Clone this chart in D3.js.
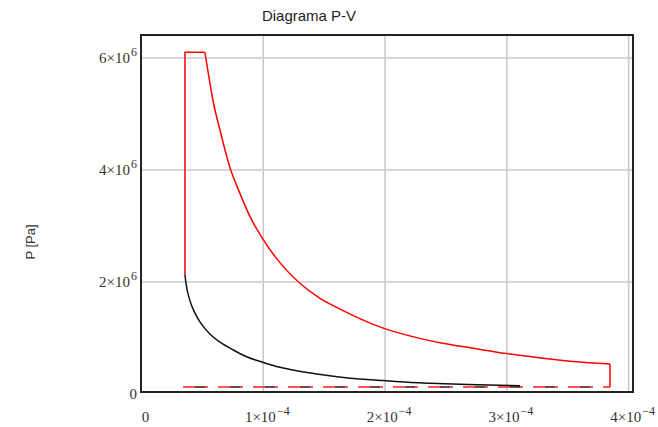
<!DOCTYPE html>
<html>
<head>
<meta charset="utf-8">
<script src="https://cdn.jsdelivr.net/npm/d3@7"></script>
<style>
  body { margin: 0; background: #fff; }
  svg { display: block; }
  .grid line { stroke: #c8c8c8; stroke-width: 1.5; }
  .grid path { display: none; }
  .lbl text { font-family: "Liberation Serif", serif; font-size: 15px; fill: #333; }
  .lbl path, .lbl line { display: none; }
</style>
</head>
<body>
<svg width="658" height="427"></svg>
<script>
// compression curve (black), V in m^3, P in Pa
const compV = [3.112e-4, 2.685e-4, 2.373e-4, 2.126e-4, 1.989e-4, 1.716e-4, 1.443e-4, 1.278e-4,
  1.141e-4, 1.004e-4, 0.868e-4, 0.758e-4, 0.649e-4, 0.567e-4, 0.484e-4, 0.440e-4, 0.402e-4,
  0.369e-4, 0.361e-4];
const compP = [0.143e6, 0.162e6, 0.185e6, 0.212e6, 0.235e6, 0.277e6, 0.350e6, 0.408e6,
  0.470e6, 0.557e6, 0.660e6, 0.780e6, 0.920e6, 1.060e6, 1.280e6, 1.450e6, 1.660e6,
  1.975e6, 2.118e6];

// constant pressure heat addition (red)
const heatV = [0.361e-4, 0.361e-4, 0.525e-4];
const heatP = [2.118e6, 6.09e6, 6.09e6];

// expansion (red)
const expV = [0.525e-4, 0.539e-4, 0.594e-4, 0.649e-4, 0.731e-4, 0.813e-4, 0.895e-4, 1.004e-4,
  1.114e-4, 1.305e-4, 1.470e-4, 1.634e-4, 1.989e-4, 2.264e-4, 2.455e-4, 2.728e-4, 3.002e-4,
  3.276e-4, 3.549e-4, 3.851e-4];
const expP = [6.09e6, 5.90e6, 5.20e6, 4.70e6, 4.03e6, 3.57e6, 3.16e6, 2.75e6,
  2.41e6, 1.97e6, 1.70e6, 1.51e6, 1.17e6, 1.00e6, 0.91e6, 0.81e6, 0.715e6,
  0.64e6, 0.575e6, 0.53e6];

// blowdown (red)
const blowV = [3.851e-4, 3.851e-4];
const blowP = [0.53e6, 0.12e6];

// exhaust / intake stroke (dashed)
const strokeV = [0.345e-4, 3.851e-4];
const strokeP = [0.12e6, 0.12e6];

const xTicks = [0, 1e-4, 2e-4, 3e-4, 4e-4];
const xTickLabels = [["0", ""], ["1×10", "−4"], ["2×10", "−4"], ["3×10", "−4"], ["4×10", "−4"]];
const yTicks = [0, 2e6, 4e6, 6e6];
const yTickLabels = [["0", ""], ["2×10", "6"], ["4×10", "6"], ["6×10", "6"]];

const svg = d3.select("svg");
const plot = { left: 141, right: 633, top: 35, bottom: 392 };

const x = d3.scaleLinear().domain([0, 4.04e-4]).range([plot.left, plot.right]);
const y = d3.scaleLinear().domain([0.03e6, 6.4e6]).range([plot.bottom, plot.top]);

// grid
svg.append("g").attr("class", "grid")
  .attr("transform", `translate(0,${plot.bottom})`)
  .call(d3.axisBottom(x).tickValues(xTicks.slice(1)).tickSize(-(plot.bottom - plot.top)).tickFormat(""));
svg.append("g").attr("class", "grid")
  .attr("transform", `translate(${plot.left},0)`)
  .call(d3.axisLeft(y).tickValues(yTicks.slice(1)).tickSize(-(plot.right - plot.left)).tickFormat(""));

// tick labels with superscript exponents
function supLabels(sel, labels, vals) {
  sel.selectAll(".tick text").each(function (d) {
    const lab = labels[vals.indexOf(d)];
    const t = d3.select(this).text(null);
    t.append("tspan").text(lab[0]);
    if (lab[1]) {
      t.append("tspan").attr("dy", -7).attr("dx", 1).style("font-size", "12px").text(lab[1]);
    }
  });
}

const xa = svg.append("g").attr("class", "lbl")
  .attr("transform", `translate(0,${plot.bottom})`)
  .call(d3.axisBottom(x).tickValues(xTicks).tickSize(0));
xa.selectAll(".tick text").attr("y", 30).attr("dy", 0).attr("dx", 4);
supLabels(xa, xTickLabels, xTicks);

const ya = svg.append("g").attr("class", "lbl")
  .attr("transform", `translate(${plot.left},0)`)
  .call(d3.axisLeft(y).tickValues(yTicks).tickSize(0).tickPadding(4));
ya.selectAll(".tick text").attr("dy", "0.35em");
supLabels(ya, yTickLabels, yTicks);

// frame
svg.append("rect")
  .attr("x", plot.left).attr("y", plot.top)
  .attr("width", plot.right - plot.left).attr("height", plot.bottom - plot.top)
  .attr("fill", "none").attr("stroke", "#222").attr("stroke-width", 2);

const line = d3.line().x(d => x(d[0])).y(d => y(d[1]));
const smooth = d3.line().x(d => x(d[0])).y(d => y(d[1])).curve(d3.curveMonotoneX);

// dashed stroke: red and dark gray dashes overlapping
const strokePts = d3.zip(strokeV, strokeP);
svg.append("path").attr("d", line(strokePts))
  .attr("fill", "none").attr("stroke", "#ff2020").attr("stroke-width", 1.6)
  .attr("stroke-dasharray", "25,10");
svg.append("path").attr("d", line(strokePts))
  .attr("fill", "none").attr("stroke", "#444").attr("stroke-width", 1.6)
  .attr("stroke-dasharray", "10,25").attr("stroke-dashoffset", -12);

// red cycle
const red = svg.append("g").attr("fill", "none").attr("stroke", "#ff0000").attr("stroke-width", 1.5);
red.append("path").attr("d", line(d3.zip(heatV, heatP)));
red.append("path").attr("d", smooth(d3.zip(expV, expP)));
red.append("path").attr("d", line(d3.zip(blowV, blowP)));

// black compression
svg.append("path").attr("d", smooth(d3.zip(compV, compP).reverse()))
  .attr("fill", "none").attr("stroke", "#111").attr("stroke-width", 1.5);

// titles
svg.append("text")
  .attr("x", 309).attr("y", 21)
  .attr("text-anchor", "middle")
  .style("font-family", "Liberation Sans, Arial, sans-serif")
  .style("font-size", "15px").style("fill", "#222")
  .text("Diagrama P-V");

svg.append("text")
  .attr("transform", "translate(35,242) rotate(-90)")
  .attr("text-anchor", "middle")
  .style("font-family", "Liberation Sans, Arial, sans-serif")
  .style("font-size", "13px").style("fill", "#333")
  .text("P [Pa]");
</script>
</body>
</html>
